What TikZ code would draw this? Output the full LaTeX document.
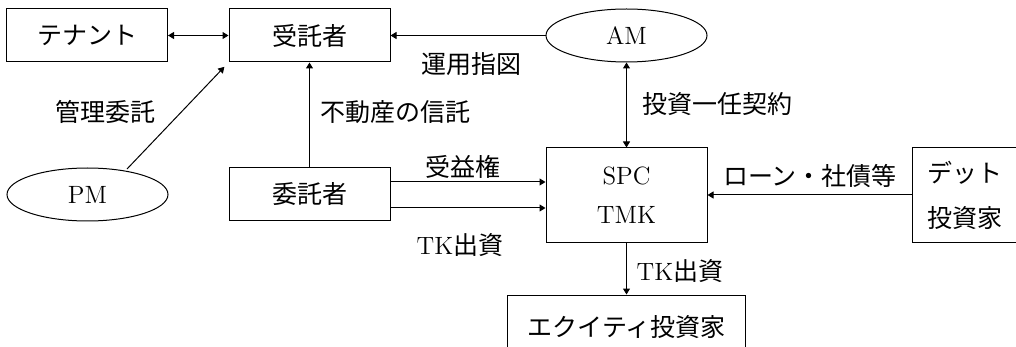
\documentclass[tikz,border=0pt]{standalone}
\usepackage{fontspec}
\newfontfamily\cjk{Noto Sans CJK JP}
\usetikzlibrary{shapes.geometric,arrows.meta}
\begin{document}
\begin{tikzpicture}[x=0.5pt,y=-0.5pt,
  every node/.style={font=\fontsize{12.5}{15}\selectfont\cjk, inner sep=0pt},
  box/.style={draw, line width=0.5pt, minimum width=80.5pt, minimum height=26.5pt},
  oval/.style={draw, ellipse, line width=0.5pt, minimum width=80.5pt, minimum height=26.5pt},
  arr/.style={line width=0.5pt, -{Triangle[length=3pt,width=3.5pt]}},
  darr/.style={line width=0.5pt, {Triangle[length=3pt,width=3.5pt]}-{Triangle[length=3pt,width=3.5pt]}}]
\clip (0,0) rectangle (1016,347);
\useasboundingbox (0,0) rectangle (1016,347);
\fill[white] (0,0) rectangle (1016,347);
% nodes
\node[box] (tenant) at (87,35.5) {テナント};
\node[box] (trustee) at (309.5,35.5) {受託者};
\node[oval] (am) at (626.5,35.5) {\rmfamily AM};
\node[oval] (pm) at (87.5,194.5) {\rmfamily PM};
\node[box] (settlor) at (309.5,194.5) {委託者};
\node[box, minimum height=47pt, align=center, font=\fontsize{12.5}{19.5}\selectfont\rmfamily] (spc) at (626.5,195) {SPC\\TMK};
\node[box, minimum width=52.5pt, minimum height=47pt, align=center, font=\fontsize{12.5}{22.5}\selectfont\cjk] (debt) at (964.5,195) {デット\\投資家};
\node[box, minimum width=119pt, minimum height=32pt] (equity) at (626.5,327) {エクイティ投資家};
% labels
\node (l1) at (471,64) {運用指図};
\node (l2) at (717,104) {投資一任契約};
\node (l3) at (105,112) {管理委託};
\node (l4) at (395,112) {不動産の信託};
\node (l5) at (463,167) {受益権};
\node (l6) at (460,245) {{\rmfamily TK}出資};
\node (l7) at (680,271) {{\rmfamily TK}出資};
\node (l8) at (810,176) {ローン・社債等};
% connectors
\draw[darr] (tenant) -- (trustee);
\draw[arr] (am) -- (trustee);
\draw[darr] (am) -- (spc);
\coordinate (pmtop) at (127,169);
\draw[arr, shorten >=3pt] (pmtop) -- (trustee.south west);
\draw[arr] (settlor) -- (trustee);
\draw[arr] ([yshift=6.25pt]settlor.east) -- ([yshift=6.25pt]settlor.east -| spc.west);
\draw[arr] ([yshift=-6.75pt]settlor.east) -- ([yshift=-6.75pt]settlor.east -| spc.west);
\draw[arr] (debt) -- (spc);
\draw[arr] (spc) -- (equity);
\end{tikzpicture}
\end{document}
